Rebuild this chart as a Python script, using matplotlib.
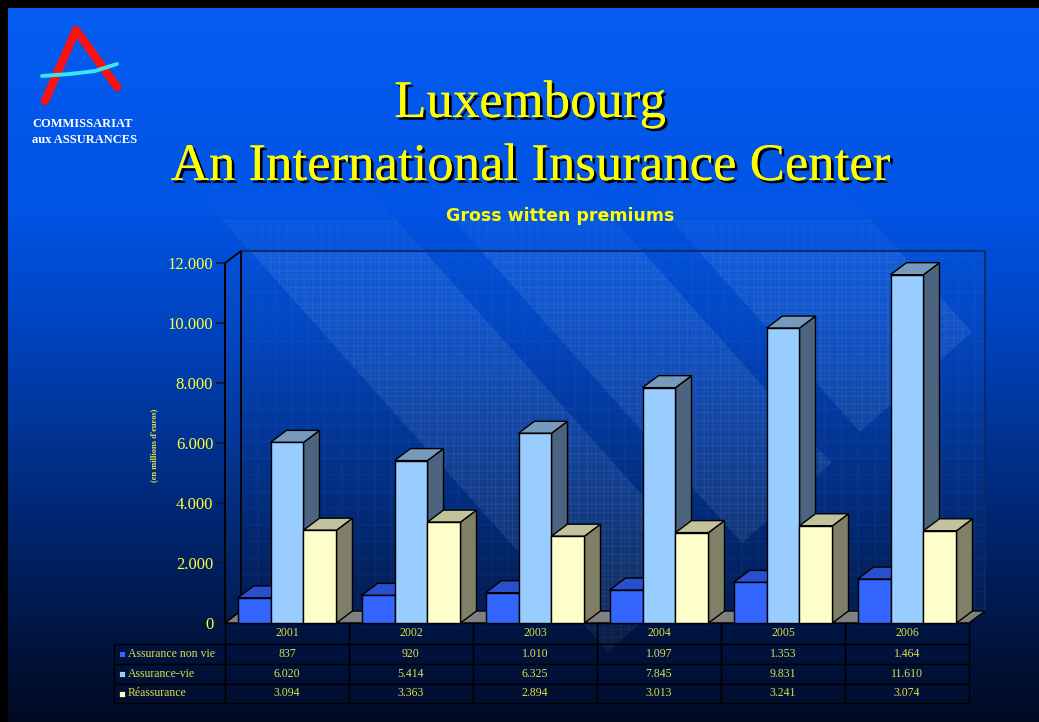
import numpy as np
import matplotlib
matplotlib.use("Agg")
import matplotlib.pyplot as plt
from matplotlib.patches import Polygon, Rectangle
from matplotlib import patheffects as pe

years = ["2001", "2002", "2003", "2004", "2005", "2006"]
series = ["Assurance non vie", "Assurance-vie", "Réassurance"]
non_vie = [837, 920, 1010, 1097, 1353, 1464]
vie = [6020, 5414, 6325, 7845, 9831, 11610]
reass = [3094, 3363, 2894, 3013, 3241, 3074]
yticks = [0, 2000, 4000, 6000, 8000, 10000, 12000]

front = ["#3366ff", "#99ccff", "#ffffcc"]
tops = ["#2a4fcc", "#7799bb", "#c2c29c"]
sides = ["#1f3b99", "#4d6480", "#808066"]

SERIF = ["Liberation Serif", "DejaVu Serif"]
YEL = "#ffff33"
TYEL = "#dede4a"


def fmt(v):
    return f"{v:,}".replace(",", ".")


W, H = 1039, 722
fig = plt.figure(figsize=(W / 100, H / 100), dpi=100)
fig.patch.set_facecolor("black")

# ---- background (pixel coords) ----
bg = fig.add_axes([0, 0, 1, 1])
bg.set_xlim(0, W)
bg.set_ylim(H, 0)
bg.axis("off")
bg.set_facecolor("black")
yy = np.arange(H)
stops_y = [8, 200, 330, 480, 620, 722]
stops_c = np.array([[0.02, 0.36, 0.94], [0.0, 0.33, 0.90], [0.0, 0.26, 0.74],
                    [0.0, 0.17, 0.50], [0.0, 0.09, 0.28], [0.0, 0.04, 0.13]])
grad = np.stack([np.interp(yy, stops_y, stops_c[:, c]) for c in range(3)], axis=1)
bg.imshow(grad[:, None, :], extent=(8, W + 2, H, 8), aspect="auto", zorder=0)

# diagonal decoration stripes ending in pointed tips, fading out towards the top
d = np.array([1.0, 1.12]); d /= np.linalg.norm(d)
nu = np.array([d[1], -d[0]])
fades = [(250, 0.07, 0.10), (220, 0.035, 0.05), (195, 0.018, 0.0)]
prev = H
for top, fa, ha in fades:
    clip = Rectangle((8, top), W, prev - top, transform=bg.transData)
    prev = top
    for tip, bw in [((608, 652), 130), ((742, 543), 120), ((860, 432), 150)]:
        T = np.array(tip); C = T + bw * nu
        poly = [T, C, C - 1200 * d, T - 1200 * d]
        p1 = bg.add_patch(Polygon(poly, closed=True, facecolor=(1, 1, 1, fa), lw=0, zorder=1))
        p1.set_clip_path(clip)
        if ha > 0:
            p2 = bg.add_patch(Polygon(poly, closed=True, facecolor="none",
                                      edgecolor=(0.5, 0.75, 1, ha), hatch="++", lw=0, zorder=1))
            p2.set_clip_path(clip)

# logo
bg.plot([45, 76, 117], [101, 30, 87], color="#ff1010", lw=6, solid_capstyle="round",
        solid_joinstyle="round", zorder=3)
bg.plot([42, 70, 95, 117], [76, 74, 71, 64], color="#33e8f0", lw=2.8,
        solid_capstyle="round", zorder=4)
bg.text(83, 124, "COMMISSARIAT", ha="center", va="center", color="white",
        fontsize=9, fontweight="bold", family=SERIF, zorder=4)
bg.text(85, 140, "aux ASSURANCES", ha="center", va="center", color="white",
        fontsize=9, fontweight="bold", family=SERIF, zorder=4)

shadow = [pe.withSimplePatchShadow(offset=(2, -2), shadow_rgbFace="black", alpha=1.0),
          pe.Normal()]
bg.text(530, 117, "Luxembourg", ha="center", va="baseline", color="#ffff00",
        fontsize=38, family=SERIF, path_effects=shadow, zorder=4)
bg.text(530, 180, "An International Insurance Center", ha="center", va="baseline",
        color="#ffff00", fontsize=38, family=SERIF, path_effects=shadow, zorder=4)
bg.text(560, 216, "Gross witten premiums", ha="center", va="center", color="#ffff00",
        fontsize=12.5, fontweight="bold", family=["DejaVu Sans"], zorder=4)
bg.text(154, 445, "(en millions d'euros)", ha="center", va="center", rotation=90,
        color="#e6e640", fontsize=6, fontweight="bold", family=SERIF, zorder=4)

# ---- chart ----
ax = fig.add_axes([225 / W, 1 - 623 / H, 744 / W, 360 / H])
ax.set_facecolor("none")
ax.set_xlim(-0.5, 5.5)
ax.set_ylim(0, 12000)
for s in ["top", "right", "bottom"]:
    ax.spines[s].set_visible(False)
ax.spines["left"].set_color("black")
ax.spines["left"].set_linewidth(1.3)
ax.spines["left"].set_zorder(2)
ax.set_xticks([])
ax.set_yticks(yticks)
ax.set_yticklabels([fmt(v) for v in yticks])
ax.tick_params(axis="y", direction="out", length=6.5, width=1.3, color="#0a1838",
               labelcolor=YEL, labelsize=12, pad=2)
for t in ax.get_yticklabels():
    t.set_family(SERIF)

DX = 16 / 124
DY = 400
x0, x1 = -0.5, 5.5
# back wall + side wall
wall = [(x0 + DX, DY), (x1 + DX, DY), (x1 + DX, 12000 + DY), (x0 + DX, 12000 + DY)]
ax.add_patch(Polygon(wall, closed=True, facecolor=(0.3, 0.6, 1, 0.04),
                     edgecolor="#0a2a66", lw=1.3, zorder=1, clip_on=False))
ax.add_patch(Polygon(wall, closed=True, facecolor="none", edgecolor=(0.4, 0.7, 1, 0.06),
                     hatch="+", lw=0, zorder=1, clip_on=False))
ax.add_patch(Polygon([(x0, 0), (x0 + DX, DY), (x0 + DX, 12000 + DY), (x0, 12000)],
                     closed=True, facecolor=(0.3, 0.6, 1, 0.05), edgecolor="black",
                     lw=1.3, zorder=1, clip_on=False))
# floor
ax.add_patch(Polygon([(x0, 0), (x1, 0), (x1 + DX, DY), (x0 + DX, DY)], closed=True,
                     facecolor="#808080", edgecolor="black", lw=1, zorder=2, clip_on=False))

w = 0.266
vals = [non_vie, vie, reass]
z = 3
for i in range(len(years)):
    for k in range(3):
        h = vals[k][i]
        xc = i + (k - 1) * w
        a, b = xc - w / 2, xc + w / 2
        ax.fill([b, b + DX, b + DX, b], [0, DY, h + DY, h], color=sides[k],
                ec="black", lw=1, zorder=z, clip_on=False)
        ax.fill([a, b, b + DX, a + DX], [h, h, h + DY, h + DY], color=tops[k],
                ec="black", lw=1, zorder=z, clip_on=False)
        ax.bar(xc, h, width=w, color=front[k], edgecolor="black", lw=1,
               zorder=z + 0.5, clip_on=False)
        z += 1

# ---- data table ----
tr = ax.get_xaxis_transform()
rows_px = [623, 644, 664, 684, 703]
rows = [-(p - 623) / 360 for p in rows_px]
cell = (0.0, 0.08, 0.25, 0.35)
lab_x0 = -0.5 - 111 / 124
for r in range(4):
    ylo, yhi = rows[r + 1], rows[r]
    for i in range(len(years)):
        ax.add_patch(Rectangle((i - 0.5, ylo), 1, yhi - ylo, transform=tr,
                               facecolor=cell, edgecolor="black", lw=1,
                               clip_on=False, zorder=2))
    if r > 0:
        ax.add_patch(Rectangle((lab_x0, ylo), -0.5 - lab_x0, yhi - ylo, transform=tr,
                               facecolor=cell, edgecolor="black", lw=1,
                               clip_on=False, zorder=2))
    ym = (ylo + yhi) / 2
    if r == 0:
        for i, yr in enumerate(years):
            ax.text(i, ym, yr, transform=tr, ha="center", va="center", color=TYEL,
                    fontsize=8.5, family=SERIF, zorder=3)
    else:
        ax.plot([lab_x0 + 0.065], [ym], marker="s", ms=5, mfc=front[r - 1], mec="black",
                mew=0.5, transform=tr, clip_on=False, zorder=3)
        ax.text(lab_x0 + 0.11, ym, series[r - 1], transform=tr, ha="left", va="center",
                color=TYEL, fontsize=8.5, family=SERIF, zorder=3)
        for i in range(len(years)):
            ax.text(i, ym, fmt(vals[r - 1][i]), transform=tr, ha="center", va="center",
                    color=TYEL, fontsize=8.5, family=SERIF, zorder=3)

fig.savefig("out.png", dpi=100, facecolor=fig.get_facecolor())
